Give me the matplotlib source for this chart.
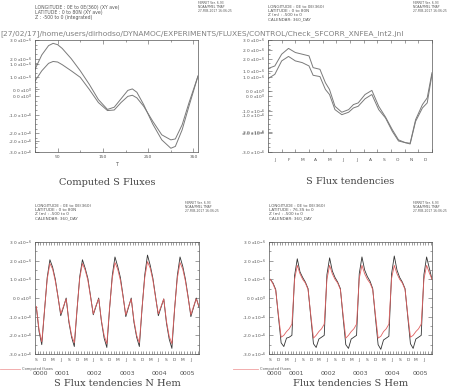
import matplotlib
matplotlib.use("Agg")
import matplotlib.pyplot as plt
from matplotlib.ticker import FuncFormatter, MultipleLocator
import numpy as np

# ---- top left: computed S fluxes (units 1e-6), T in days
t_days = [0, 15, 30, 40, 50, 60, 80, 100, 120, 140, 160, 175, 190, 205, 215,
          225, 240, 260, 280, 300, 310, 325, 340, 360]
flux_big = [1.43, 2.2, 2.7, 2.82, 2.75, 2.55, 2.0, 1.35, 0.62, -0.19, -0.72,
            -0.6, -0.15, 0.3, 0.38, 0.2, -0.46, -1.5, -2.35, -2.8, -2.7, -1.81,
            -0.55, 1.07]
flux_small = [0.8, 1.35, 1.75, 1.85, 1.82, 1.68, 1.35, 1.0, 0.35, -0.35, -0.78,
              -0.75, -0.35, -0.02, 0.04, -0.1, -0.55, -1.35, -2.08, -2.35, -2.3,
              -1.54, -0.37, 1.07]

# ---- top right: S flux tendencies over a year (months)
t_month = [0, 0.5, 1.0, 1.5, 2.0, 2.5, 3.0, 3.3, 3.8, 4.2, 4.5, 4.9, 5.4, 5.9,
           6.25, 6.6, 7.1, 7.6, 8.1, 8.6, 9.1, 9.55, 10.05, 10.4, 10.8, 11.3,
           11.65, 12]
tend_upper = [1.47, 1.61, 2.24, 2.55, 2.33, 2.24, 2.15, 1.52, 1.43, 0.71, 0.35,
              -0.55, -0.87, -0.73, -0.46, -0.37, 0.08, 0.30, -0.55, -1.13,
              -1.81, -2.35, -2.50, -2.53, -1.27, -0.46, -0.10, 1.25]
tend_lower = [0.93, 1.16, 1.88, 2.12, 1.88, 1.79, 1.61, 1.11, 1.04, 0.35, 0.08,
              -0.73, -1.0, -0.87, -0.64, -0.55, -0.15, 0.08, -0.73, -1.18, -1.9,
              -2.41, -2.5, -2.57, -1.36, -0.64, -0.37, 1.16]
month_letters = ["J", "F", "M", "A", "M", "J", "J", "A", "S", "O", "N", "D"]

# ---- bottom: monthly series Sep 0000 .. Sep 0005 (months since Jan 0000)
t_series = list(np.arange(8, 69) + 0.5)
nh_black = [-0.5, -1.8, -2.5, -0.7,
            1.1, 2.05, 1.65, 1.0, 0.05, -0.95, -0.5, 0.0, -1.3, -2.1, -2.6, -0.65,
            1.15, 2.05, 1.6, 1.05, 0.1, -0.9, -0.45, 0.0, -1.25, -2.15, -2.65, -0.6,
            1.2, 2.2, 1.7, 1.1, 0.1, -1.0, -0.5, 0.0, -1.3, -2.1, -2.6, -0.55,
            1.25, 2.3, 1.75, 1.05, 0.05, -0.95, -0.5, -0.05, -1.35, -2.2, -2.7, -0.6,
            1.2, 2.2, 1.7, 1.0, 0.05, -1.0, -0.5, 0.0, -0.5]
nh_red = [-0.45, -1.7, -2.35, -0.65,
          1.0, 1.85, 1.55, 0.9, 0.05, -0.85, -0.45, -0.05, -1.2, -2.0, -2.4, -0.6,
          1.05, 1.85, 1.5, 0.95, 0.05, -0.85, -0.4, -0.05, -1.2, -2.0, -2.45, -0.55,
          1.05, 1.9, 1.55, 0.95, 0.05, -0.9, -0.45, -0.05, -1.2, -2.0, -2.4, -0.5,
          1.1, 1.95, 1.6, 0.95, 0.0, -0.85, -0.45, -0.05, -1.25, -2.05, -2.45, -0.55,
          1.05, 1.9, 1.55, 0.9, 0.0, -0.9, -0.45, -0.05, -0.45]
sh_black = [1.0, 0.8, 0.45, -1.0,
            -2.4, -2.6, -2.15, -2.1, -2.0, 1.2, 2.1, 1.4, 1.1, 0.85, 0.5, -1.0,
            -2.45, -2.65, -2.2, -2.1, -2.0, 1.25, 2.15, 1.45, 1.1, 0.85, 0.5, -1.05,
            -2.5, -2.7, -2.2, -2.1, -2.0, 1.3, 2.2, 1.5, 1.15, 0.9, 0.5, -1.05,
            -2.5, -2.75, -2.25, -2.15, -2.05, 1.3, 2.25, 1.5, 1.1, 0.85, 0.5, -1.0,
            -2.45, -2.7, -2.2, -2.1, -2.0, 1.25, 2.2, 1.6, 1.0]
sh_red = [1.0, 0.75, 0.4, -0.9,
          -2.1, -2.0, -1.8, -1.65, -1.4, 1.0, 1.75, 1.3, 1.0, 0.8, 0.45, -0.9,
          -2.15, -2.0, -1.8, -1.65, -1.4, 1.0, 1.75, 1.3, 1.0, 0.8, 0.45, -0.9,
          -2.15, -2.0, -1.8, -1.65, -1.4, 1.05, 1.75, 1.3, 1.0, 0.8, 0.45, -0.9,
          -2.15, -2.05, -1.8, -1.65, -1.4, 1.05, 1.75, 1.3, 1.0, 0.8, 0.45, -0.9,
          -2.1, -2.0, -1.8, -1.65, -1.4, 1.0, 1.75, 1.35, 1.0]
season_letters = ["S", "D", "M", "J"]
years = ["0000", "0001", "0002", "0003", "0004", "0005"]

path_text = "[27/02/17]/home/users/dirhodso/DYNAMOC/EXPERIMENTS/FLUXES/CONTROL/Check_SFCORR_XNFEA_Int2.jnl"
ferret_stamp = "FERRET Ver. 6.93\nNOAA/PMEL TMAP\n27-FEB-2017 16:06:25"

GREY = "#555555"
LINE = "#7a7a7a"
W, H = 449, 387


def ferret_fmt(v, pos):
    if abs(v) < 1e-9:
        return "0.0 x10$^{0}$"
    return "%.1f x10$^{-6}$" % v


def box(l, t, r, b):
    return [l / W, 1 - b / H, (r - l) / W, (b - t) / H]


def style(ax, twin_lim=None, twin_ticks=None):
    for s in ax.spines.values():
        s.set_color(GREY)
        s.set_linewidth(0.5)
    ax.set_ylim(-3, 3)
    ax.yaxis.set_major_locator(MultipleLocator(1))
    ax.yaxis.set_minor_locator(MultipleLocator(0.25))
    ax.yaxis.set_major_formatter(FuncFormatter(ferret_fmt))
    ax.tick_params(which="both", direction="in", top=True, right=True,
                   colors=GREY, width=0.4, labelsize=3.2, pad=2)
    ax.tick_params(which="major", length=3)
    ax.tick_params(which="minor", length=1.5)
    if twin_lim is not None:
        ax2 = ax.twinx()
        ax2.set_ylim(*twin_lim)
        ax2.set_yticks(twin_ticks)
        ax2.yaxis.set_major_formatter(FuncFormatter(ferret_fmt))
        ax2.yaxis.set_ticks_position("left")
        ax2.tick_params(direction="in", colors=GREY, width=0.4, length=3,
                        labelsize=3.2, pad=2)
        for s in ax2.spines.values():
            s.set_visible(False)


def header(x, y, lines, size=3.3):
    fig.text(x / W, 1 - y / H, "\n".join(lines), fontsize=size, color=GREY,
             va="top", ha="left", linespacing=1.0)


def stamp(x, y):
    fig.text(x / W, 1 - y / H, ferret_stamp, fontsize=2.2, color=GREY,
             va="top", ha="left", linespacing=1.0)


fig = plt.figure(figsize=(4.49, 3.87), dpi=100)

# top left
ax = fig.add_axes(box(35, 40, 198, 152))
ax.plot(t_days, flux_big, color=LINE, lw=0.7)
ax.plot(t_days, flux_small, color=LINE, lw=0.7)
ax.set_xlim(0, 360)
ax.set_xticks([50, 150, 250, 350])
ax.xaxis.set_minor_locator(MultipleLocator(50))
style(ax, (-2.43, 1.92), [1, 0, -2])
ax.set_xlabel("T", fontsize=3.5, color=GREY, labelpad=2)
fig.text(107 / W, 1 - 183 / H, "Computed S Fluxes", fontsize=7, color="#444444",
         family="DejaVu Serif", ha="center", va="center")
header(35, 5, ["LONGITUDE : 0E to 0E(360) (XY ave)", "LATITUDE : 0 to 80N (XY ave)",
               "Z : -500 to 0 (integrated)"])
stamp(198, 1)

# top right
ax = fig.add_axes(box(268, 40, 432, 152))
ax.plot(t_month, tend_upper, color=LINE, lw=0.7)
ax.plot(t_month, tend_lower, color=LINE, lw=0.7)
ax.set_xlim(0, 12)
ax.set_xticks(np.arange(12) + 0.5)
ax.set_xticklabels(month_letters)
style(ax, (-3.0, 2.5), [2, 1, 0, -1, -2])
ax.tick_params(axis="x", which="major", length=0, pad=4)
ax.xaxis.set_minor_locator(MultipleLocator(1))
ax.tick_params(axis="x", which="minor", length=2.5)
fig.text(350 / W, 1 - 182 / H, "S Flux tendencies", fontsize=7, color="#444444",
         family="DejaVu Serif", ha="center", va="center")
header(268, 5, ["LONGITUDE : 0E to 0E(360)", "LATITUDE : 0 to 80N",
                "Z (m) : -500 to 0", "CALENDAR: 360_DAY"], size=3.0)
stamp(413, 1)

fig.text(0, 1 - 34 / H, path_text, fontsize=5.4, color="#808080", va="center",
         ha="left")


def bottom_panel(l, r, black, red, title, lat):
    ax = fig.add_axes(box(l, 242, r, 354))
    ax.plot(t_series, black, color="#333333", lw=0.6)
    ax.plot(t_series, red, color="#e06060", lw=0.6)
    ax.set_xlim(8, 68.5)
    ax.set_xticks(np.arange(8, 68, 3) + 0.5)
    ax.set_xticklabels([season_letters[i % 4] for i in range(20)])
    style(ax)
    ax.yaxis.set_minor_locator(MultipleLocator(0.5))
    ax.tick_params(axis="x", which="major", length=0, pad=3)
    ax.xaxis.set_minor_locator(MultipleLocator(1))
    ax.tick_params(axis="x", which="minor", length=2)
    bounds = [8, 12, 24, 36, 48, 60, 68.5]
    for i, yr in enumerate(years):
        ax.text((bounds[i] + bounds[i + 1]) / 2, -0.17, yr,
                transform=ax.get_xaxis_transform(), fontsize=4.5, color=GREY,
                ha="center", va="center")
    cx = (l + r) / 2
    fig.text(cx / W, 1 - 383 / H, title, fontsize=7, color="#444444",
             family="DejaVu Serif", ha="center", va="center")
    header(l, 204, ["LONGITUDE : 0E to 0E(360)", lat, "Z (m) : -500 to 0",
                    "CALENDAR: 360_DAY"], size=3.0)
    return ax


bottom_panel(35, 199, nh_black, nh_red, "S Flux tendencies N Hem",
             "LATITUDE : 0 to 80N")
stamp(185, 201)
bottom_panel(269, 432, sh_black, sh_red, "Flux tendencies S Hem",
             "LATITUDE : 76.3S to 0")
stamp(413, 201)

# legend stubs
for x0, x1 in [(0, 20), (233, 258)]:
    fig.add_artist(plt.Line2D([x0 / W, x1 / W], [1 - 369 / H] * 2,
                              color="#f0a0a0", lw=0.6))
    fig.text((x1 + 2) / W, 1 - 369 / H, "Computed fluxes", fontsize=2.6,
             color=GREY, va="center", ha="left")

fig.savefig("out.png", dpi=100)
